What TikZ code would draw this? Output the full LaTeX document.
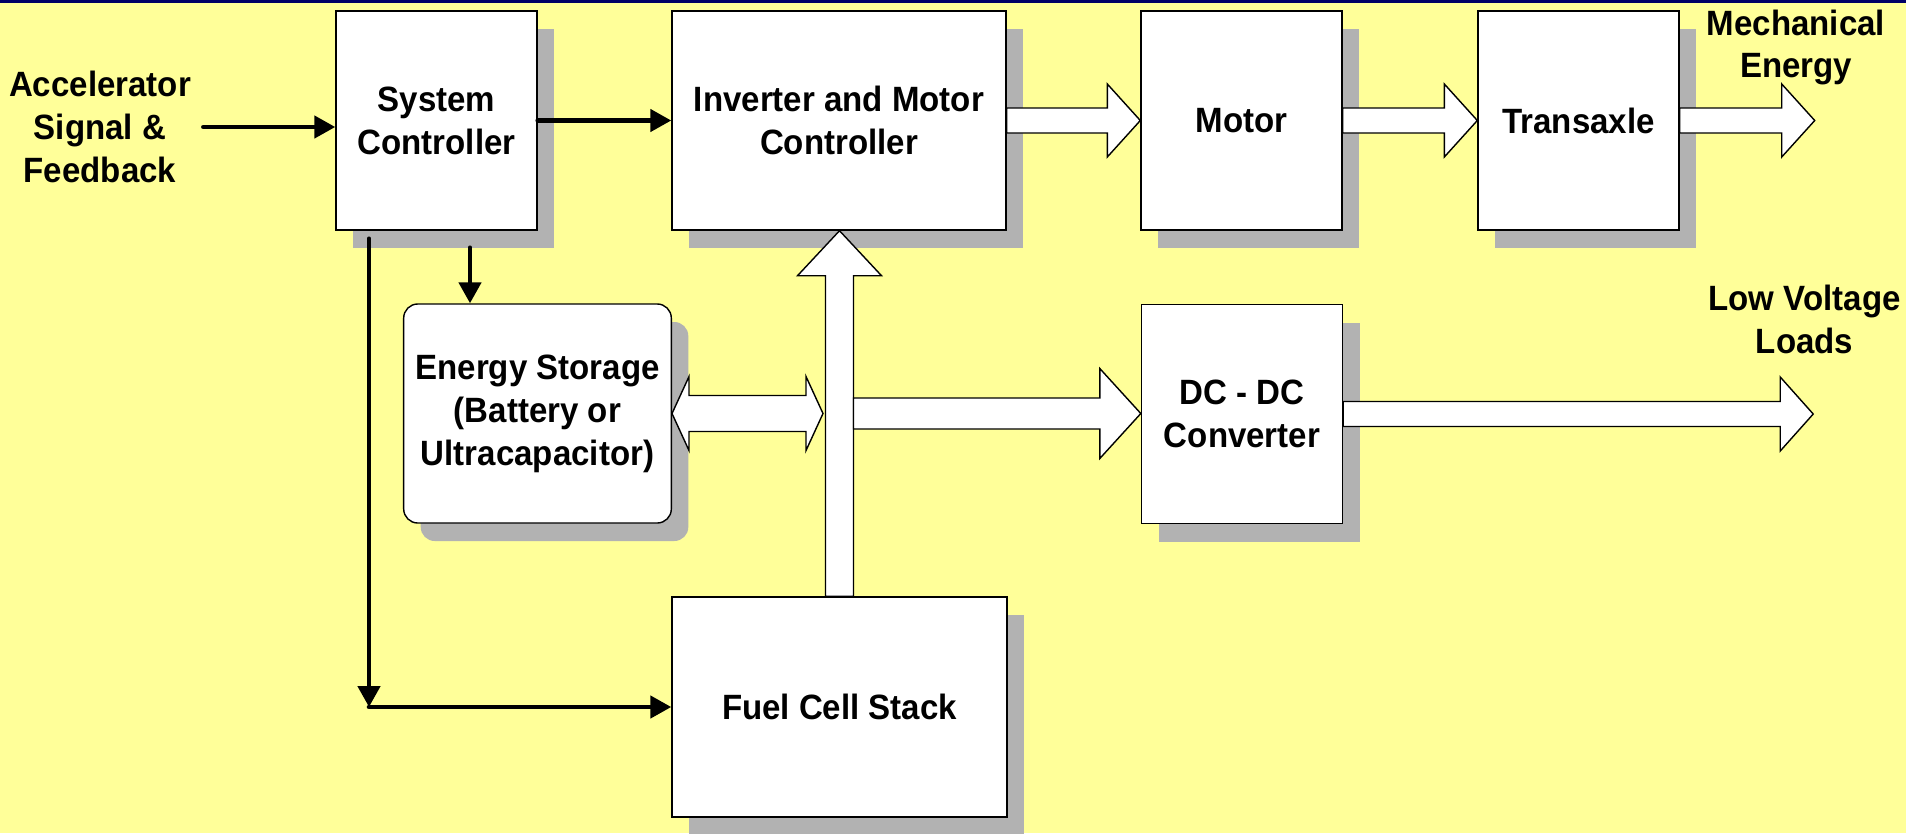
\documentclass[tikz,border=0pt]{standalone}
\usepackage{fontspec}
\setmainfont{Liberation Sans}[FakeStretch=0.94]
\usepackage{tikz}
\usetikzlibrary{arrows.meta,calc,shadows}
\definecolor{paper}{HTML}{FFFF99}
\definecolor{band}{HTML}{000066}
\definecolor{shade}{HTML}{B2B2B2}
\newcommand{\fatright}[5]{\draw[fat] let \p1=(#1),\p2=(#2) in
  (\x1,\y1+#3) -- (\x2-#5,\y1+#3) -- (\x2-#5,\y1+#4) -- (\x2,\y1)
  -- (\x2-#5,\y1-#4) -- (\x2-#5,\y1-#3) -- (\x1,\y1-#3) -- cycle;}
\newcommand{\fatup}[5]{\draw[fat] let \p1=(#1),\p2=(#2) in
  (\x1-#3,\y1) -- (\x1-#3,\y2-#5) -- (\x1-#4,\y2-#5) -- (\x1,\y2)
  -- (\x1+#4,\y2-#5) -- (\x1+#3,\y2-#5) -- (\x1+#3,\y1) -- cycle;}
\newcommand{\fatboth}[5]{\draw[fat] let \p1=(#1),\p2=(#2) in
  (\x1,\y1) -- (\x1+#5,\y1+#4) -- (\x1+#5,\y1+#3) -- (\x2-#5,\y1+#3) -- (\x2-#5,\y1+#4) -- (\x2,\y1)
  -- (\x2-#5,\y1-#4) -- (\x2-#5,\y1-#3) -- (\x1+#5,\y1-#3) -- (\x1+#5,\y1-#4) -- cycle;}

\begin{document}
\begin{tikzpicture}[font=\fontsize{10}{12.2}\selectfont\bfseries,
    blk/.style={draw=black,line width=0.4pt,fill=white,align=center,minimum width=2.01cm,minimum height=2.19cm,
      drop shadow={shadow xshift=0.17cm,shadow yshift=-0.18cm,fill=shade,opacity=1}},
    sig/.style={line width=1.3pt,line cap=round,-{Triangle[length=2.1mm,width=2.2mm]}},
    fat/.style={draw=black,line width=0.4pt,fill=white,line join=miter}]
    \useasboundingbox (0,0) rectangle (19.06,8.33);
    \fill[paper] (0,0) rectangle (19.06,8.33);
    \fill[band] (0,8.30) rectangle (19.06,8.33);
    \node[blk] (ctrl) at (4.365,7.125) {System\\Controller};
    \node[blk,minimum width=3.34cm] (inv) at (8.39,7.125) {Inverter and Motor\\Controller};
    \node[blk] (motor) at (12.415,7.125) {Motor};
    \node[blk] (axle) at (15.785,7.125) {Transaxle};
    \node[blk,minimum width=2.67cm,rounded corners=1.4mm] (store) at (5.375,4.195) {Energy Storage\\(Battery or\\Ultracapacitor)};
    \node[blk] (dcdc) at (12.42,4.19) {DC - DC\\Converter};
    \node[blk,minimum width=3.35cm,minimum height=2.2cm] (fuel) at (8.395,1.26) {Fuel Cell Stack};
    \node[align=center] (accel) at (1.0,7.06) {Accelerator\\Signal \&\\Feedback};
    \node[align=center] (mech) at (17.96,7.855) {Mechanical\\Energy};
    \node[align=center] (lowv) at (18.045,5.14) {Low Voltage\\Loads};
    \coordinate (tap1) at ([xshift=3.35mm,yshift=-1.7mm]ctrl.south);
    \coordinate (tap2) at ([xshift=-6.75mm,yshift=-0.8mm]ctrl.south);
    \coordinate (bend) at (tap2 |- fuel.west);
    \coordinate (bus) at (fuel.north |- store.east);
    \coordinate (mechend) at ([xshift=1.35cm]axle.east);
    \coordinate (loadend) at ([xshift=4.7cm]dcdc.east);
    \draw[sig] (accel.east) -- (accel.east -| ctrl.west);
    \draw[sig] (ctrl.east) -- (inv.west);
    \draw[sig] (tap1) -- (tap1 |- store.north);
    \draw[sig] (tap2) -- (bend);
    \draw[sig] (bend) -- (fuel.west);
    \fatup{fuel.north}{inv.south}{1.4mm}{4.2mm}{4.5mm}
    \fatboth{store.east}{[xshift=-1.65mm]bus}{1.8mm}{3.7mm}{1.7mm}
    \fatright{[xshift=1.4mm]bus}{dcdc.west}{1.55mm}{4.5mm}{4.1mm}
    \fatright{inv.east}{motor.west}{1.25mm}{3.65mm}{3.3mm}
    \fatright{motor.east}{axle.west}{1.25mm}{3.65mm}{3.3mm}
    \fatright{axle.east}{mechend}{1.25mm}{3.65mm}{3.3mm}
    \fatright{dcdc.east}{loadend}{1.25mm}{3.7mm}{3.3mm}
  \end{tikzpicture}
\end{document}
